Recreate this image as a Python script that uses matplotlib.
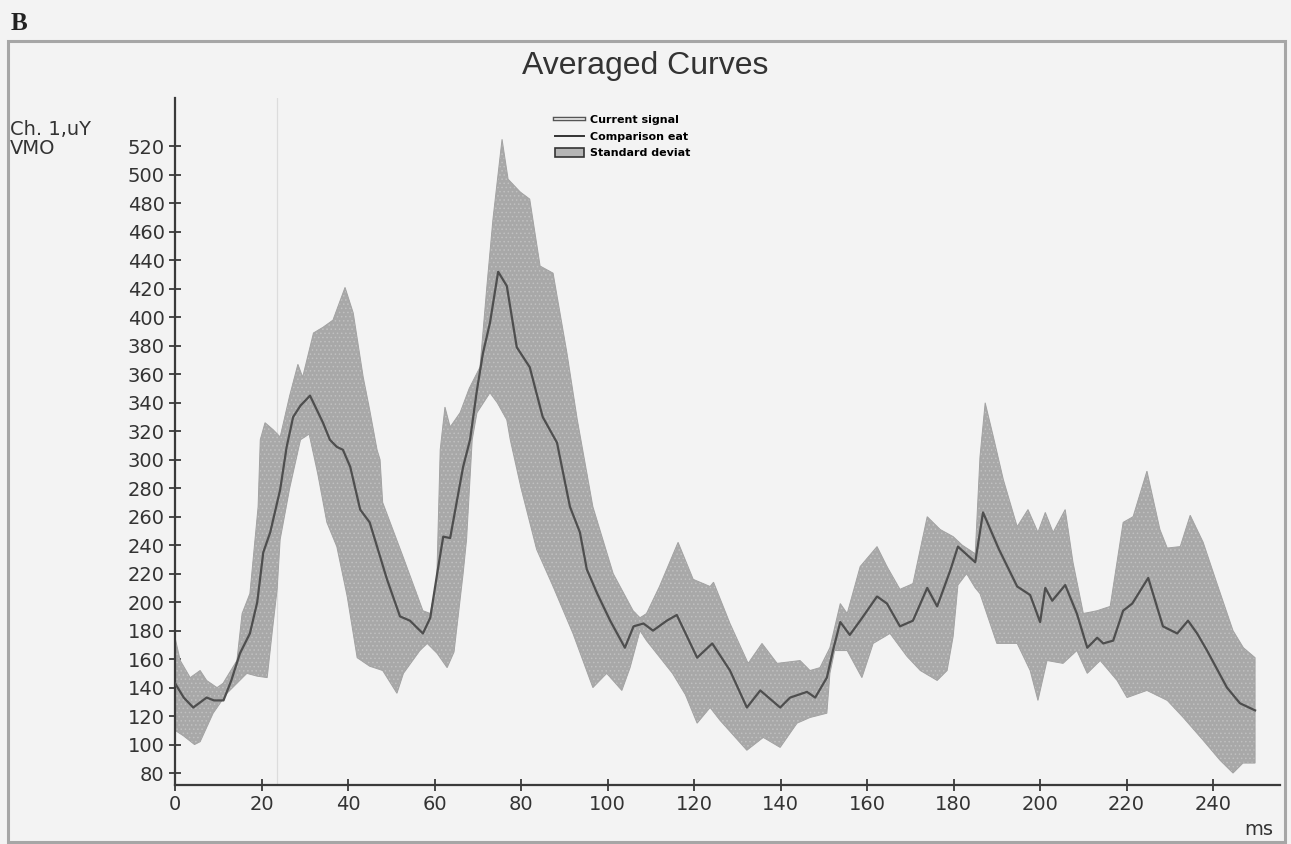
import matplotlib.pyplot as plt
import matplotlib.patches as patches
from matplotlib.lines import Line2D
import numpy as np

# Curva media (ms, uV)
mean_t = [0, 2, 4.2, 7.3, 9, 11.2, 13, 15, 17.3, 19, 20.4, 22, 24.3, 25.8, 27.3, 29, 31.2,
          34.2, 35.8, 37.4, 38.8, 40.5, 42.8, 45, 49, 52, 54.3, 57.3, 59, 60.6, 62, 63.6,
          66.6, 68.2, 69.8, 71.2, 72.8, 74.7, 76.7, 79, 82, 85, 88.3, 91.3, 93.6, 95.2,
          97.6, 100.6, 104, 106, 108.3, 110.5, 113.7, 116, 120.7, 124.2, 128.3, 132.2,
          135.3, 139.9, 142.2, 146.1, 148, 150.7, 152.1, 153.8, 156, 158.4, 162.3, 164.6,
          167.6, 170.6, 173.9, 176.2, 179.2, 181, 185, 186.8, 190.5, 194.7, 197.7, 200,
          201.2, 202.8, 205.8, 208.5, 210.9, 213.2, 214.6, 216.9, 219.2, 221.3, 225,
          228.4, 231.7, 234.2, 236.3, 238.6, 243.2, 246.2, 249.7]
mean_v = [143, 133, 126, 133, 131, 131, 145, 164, 178, 200, 235, 249, 279, 309, 330, 338, 345,
          326, 314, 309, 307, 295, 265, 256, 216, 190, 187, 178, 189, 220, 246, 245,
          295, 314, 349, 375, 396, 432, 422, 379, 365, 330, 312, 267, 249, 223,
          206, 187, 168, 183, 185, 180, 187, 191, 161, 171, 152, 126,
          138, 126, 133, 137, 133, 147, 166, 186, 177, 187, 204, 199,
          183, 187, 210, 197, 222, 239, 228, 263, 237, 211, 205, 186,
          210, 201, 212, 192, 168, 175, 171, 173, 194, 199, 217,
          183, 178, 187, 178, 166, 140, 129, 124]

# Limite superior do desvio padrao
upper_t = [0, 1.2, 3.5, 5.8, 7.3, 9.7, 11.1, 14.3, 15.5, 17.3, 19.2, 19.7, 20.8, 22.7, 24.3,
           26.5, 28.4, 29.5, 32, 34.2, 36.5, 39.3, 41.2, 43.5, 45, 46.7, 47.4, 48, 52.7,
           57.3, 59, 60.5, 61.3, 62.4, 63.6, 65.9, 68, 70.5, 72.1, 73.5, 75.6, 77, 79.8,
           82, 84.4, 87.4, 90.6, 93, 96.6, 101.3, 105.9, 107.5, 109, 112, 116.3, 119.8,
           123.7, 124.5, 128.3, 132.5, 135.7, 139.2, 144.5, 146.8, 149.1, 151.4, 153.8,
           155.4, 158.4, 162.3, 164.6, 167.6, 170.6, 173.9, 176.9, 179.9, 182, 185, 186.1,
           187.3, 189.2, 191.5, 194.7, 197.2, 199.5, 201.2, 203, 205.8, 207.6, 210, 213.2,
           216.2, 219.2, 221.5, 224.7, 227.7, 229.4, 232.4, 234.7, 237.7, 240.9, 244.6,
           247, 249.7]
upper_v = [175, 159, 147, 152, 145, 140, 143, 159, 192, 206, 267, 314, 326, 321, 316,
           345, 367, 358, 389, 393, 398, 421, 403, 358, 335, 307, 300, 270, 232,
           194, 192, 215, 307, 337, 323, 333, 350, 365, 422, 469, 525, 497, 488,
           483, 436, 431, 375, 328, 267, 220, 194, 189, 192, 211, 242, 216,
           211, 214, 185, 157, 171, 157, 159, 152, 154, 168, 199,
           192, 225, 239, 225, 209, 213, 260, 251, 246, 240, 234, 302,
           340, 316, 286, 253, 265, 249, 263, 249, 265, 228, 192, 194,
           197, 256, 260, 292, 251, 238, 239, 261, 242, 213, 180,
           168, 161]

# Limite inferior do desvio padrao
lower_t = [0, 2, 4.5, 5.8, 8.8, 12, 16.6, 19, 21.3, 22.5, 23.6, 24.3, 26.5, 29, 31, 33,
           35.1, 37.4, 39.8, 42.1, 45, 48, 51.3, 52.8, 56.6, 58.3, 60.6, 62.9, 64.5, 66.6,
           67.4, 68.7, 69.8, 72.8, 74.5, 76.7, 77.5, 80, 83.6, 87.4, 92, 96.6, 99.8, 103.3,
           105.2, 107.5, 109, 115, 118, 120.7, 123.7, 126, 132.2, 136, 139.9, 143.8, 146.8,
           150.7, 151.4, 152.5, 155.4, 158.8, 161.4, 165.3, 169.2, 172.3, 176.2, 178.5,
           179.9, 181, 183, 185, 186.1, 190, 194.7, 197.7, 199.5, 201.6, 205.3, 208.5,
           210.9, 213.9, 217.8, 220.1, 224.7, 229.4, 233.1, 237.7, 241.6, 244.6, 246.9, 249.7]
lower_v = [110, 106, 100, 102, 122, 136, 150, 148, 147, 180, 209, 244, 280, 314, 318, 290,
           256, 239, 204, 161, 155, 152, 136, 150, 166, 171, 164, 154, 165, 220,
           244, 314, 333, 347, 340, 328, 314, 280, 237, 211, 178, 140, 150, 138,
           154, 180, 173, 150, 135, 115, 126, 117, 96, 105, 98, 115, 119,
           122, 150, 166, 166, 147, 171, 178, 162, 152, 145, 152,
           176, 212, 220, 210, 206, 171, 171, 152, 131, 159, 157, 166,
           150, 159, 145, 133, 138, 131, 119, 103, 89, 80, 87, 87]

y_ticks = list(range(80, 540, 20))
x_ticks = list(range(0, 260, 20))

bg = '#f3f3f3'
dark = '#3a3a3a'

plt.rcParams['hatch.linewidth'] = 0.6

fig = plt.figure(figsize=(12.91, 8.44), dpi=100, facecolor=bg)
ax = fig.add_axes([0.1356, 0.0699, 0.856, 0.814], facecolor=bg)

# Banda do desvio padrao (textura pontilhada)
band_x = np.concatenate([upper_t, lower_t[::-1]])
band_y = np.concatenate([upper_v, lower_v[::-1]])
ax.fill(band_x, band_y, facecolor='#a8a8a8', edgecolor='#c0c0c0', hatch='....',
        linewidth=0, zorder=2)
ax.fill(band_x, band_y, facecolor='none', edgecolor='#a2a2a2', linewidth=0.7, zorder=2)

# Cursor vertical
ax.axvline(23.6, color='#dcdcdc', linewidth=0.9, zorder=1)

# Curva media
ax.plot(mean_t, mean_v, color='#4e4e4e', linewidth=1.6, zorder=3)

ax.set_xlim(0, 255.5)
ax.set_ylim(71.6, 554)
ax.set_xticks(x_ticks)
ax.set_yticks(y_ticks)
for s in ['top', 'right']:
    ax.spines[s].set_visible(False)
for s in ['left', 'bottom']:
    ax.spines[s].set_color(dark)
    ax.spines[s].set_linewidth(1.6)
ax.tick_params(direction='inout', length=9, width=1.3, colors=dark, labelsize=14,
               labelcolor='#333333', pad=3)

# Legenda
handles = [
    (Line2D([], [], color='#555555', linewidth=3.2), Line2D([], [], color='#eeeeee', linewidth=1.2)),
    Line2D([], [], color='#333333', linewidth=1.4),
    patches.Patch(facecolor='#b5b5b5', edgecolor='#333333', linewidth=1.2),
]
labels = ['Current signal', 'Comparison eat', 'Standard deviat']
ax.legend(handles, labels, loc='upper left', bbox_to_anchor=(0.335, 0.99), frameon=False,
          handlelength=2.6, handleheight=0.9, labelspacing=0.55,
          handletextpad=0.5, prop={'weight': 'bold', 'size': 8})

# Textos
fig.text(0.5, 0.922, 'Averaged Curves', ha='center', va='center', fontsize=23,
         color='#333333', family='Liberation Sans')
fig.text(0.008, 0.858, 'Ch. 1,uY\nVMO', ha='left', va='top', fontsize=14,
         color='#333333', linespacing=1.0)
fig.text(0.975, 0.006, 'ms', ha='center', va='bottom', fontsize=14, color='#333333')
fig.text(0.008, 0.972, 'B', ha='left', va='center', fontsize=18, fontweight='bold',
         family='Liberation Serif', color='#222222')

# Moldura
frame = patches.Rectangle((0.006, 0.002), 0.989, 0.949, transform=fig.transFigure,
                          fill=False, edgecolor='#a6a6a6', linewidth=2.2)
fig.patches.append(frame)

plt.savefig('out.png', dpi=100, facecolor=bg)
